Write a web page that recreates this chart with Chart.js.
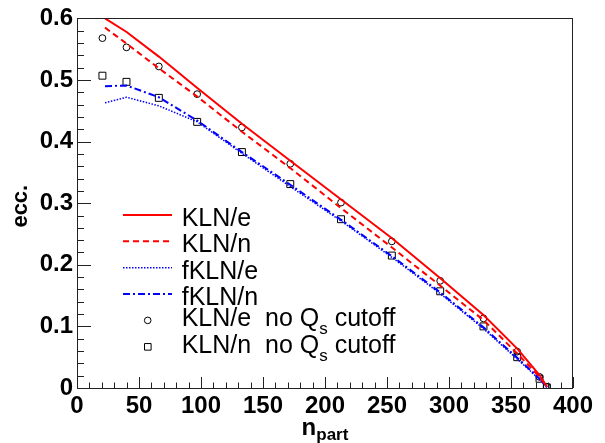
<!DOCTYPE html>
<html lang="en">
<head>
<meta charset="UTF-8">
<title>ecc. vs npart</title>
<script src="https://cdn.jsdelivr.net/npm/chart.js@4.4.1/dist/chart.umd.min.js"></script>
<style>
  body { margin: 0; background: #fff; }
</style>
</head>
<body>
<canvas id="chart" width="605" height="443"></canvas>
<script>
// npart where the model curves are evaluated
const lineNpart = [22.6, 40, 66, 97, 133, 172, 213, 254, 293, 328, 355, 373, 379];
const klnE  = [0.600, 0.578, 0.538, 0.487, 0.429, 0.369, 0.306, 0.243, 0.178, 0.118, 0.064, 0.021, 0.002];
const klnN  = [0.585, 0.559, 0.519, 0.473, 0.416, 0.357, 0.292, 0.228, 0.166, 0.110, 0.056, 0.018, 0.002];
const fklnE = [0.463, 0.472, 0.458, 0.432, 0.381, 0.327, 0.271, 0.212, 0.153, 0.096, 0.047, 0.014, 0.001];
const fklnN = [0.490, 0.491, 0.472, 0.434, 0.383, 0.330, 0.273, 0.214, 0.155, 0.098, 0.049, 0.015, 0.001];

// markers: KLN without the Qs cutoff
const pointNpart = [20.5, 39.9, 66.0, 96.9, 133.0, 172.0, 212.9, 253.9, 292.9, 327.8, 355.0, 373.0, 378.9];
const klnEnoCut  = [0.568, 0.553, 0.522, 0.477, 0.423, 0.364, 0.301, 0.238, 0.174, 0.113, 0.059, 0.018, 0.002];
const klnNnoCut  = [0.507, 0.497, 0.471, 0.432, 0.383, 0.331, 0.274, 0.215, 0.157, 0.100, 0.050, 0.015, 0.001];

const legendLabels = ["KLN/e", "KLN/n", "fKLN/e", "fKLN/n", "KLN/e  no Q_s cutoff", "KLN/n  no Q_s cutoff"];
const xTickValues = [0, 50, 100, 150, 200, 250, 300, 350, 400];
const yTickValues = [0, 0.1, 0.2, 0.3, 0.4, 0.5, 0.6];
const yTickLabels = ["0", "0.1", "0.2", "0.3", "0.4", "0.5", "0.6"];

const pts = (xs, ys) => xs.map((x, i) => ({ x: x, y: ys[i] }));

function lineSet(label, xs, ys, color, dash, width) {
    return {
        label: label, data: pts(xs, ys), showLine: true, fill: false,
        borderColor: color, borderWidth: width, borderDash: dash,
        pointRadius: 0, tension: 0
    };
}
function markerSet(label, xs, ys, style, r) {
    return {
        label: label, data: pts(xs, ys), showLine: false,
        pointStyle: style, pointRadius: r, pointBorderColor: "#000",
        pointBackgroundColor: "rgba(0,0,0,0)", pointBorderWidth: 1
    };
}

// text with "_x" subscripts, e.g. Q_s
function drawRich(ctx, text, x, y, size, bold, subSize, subDrop) {
    const w = bold ? "bold " : "";
    const parts = text.split(/_(\w+)/);
    let cx = x;
    parts.forEach((p, i) => {
        const sub = i % 2 === 1;
        ctx.font = w + (sub ? subSize : size) + "px 'Liberation Sans', Arial, sans-serif";
        ctx.fillText(p, cx, sub ? y + subDrop : y);
        cx += ctx.measureText(p).width;
    });
    return cx - x;
}
function richWidth(ctx, text, size, bold, subSize) {
    const w = bold ? "bold " : "";
    let total = 0;
    text.split(/_(\w+)/).forEach((p, i) => {
        ctx.font = w + (i % 2 ? subSize : size) + "px 'Liberation Sans', Arial, sans-serif";
        total += ctx.measureText(p).width;
    });
    return total;
}

const decor = {
    id: "decor",
    afterDatasetsDraw(chart) {
        const { ctx, chartArea: a, scales: { x, y } } = chart;
        ctx.save();
        // frame and inward ticks
        ctx.strokeStyle = "#222";
        ctx.lineWidth = 1;
        ctx.strokeRect(Math.round(a.left) + 0.5, Math.round(a.top) + 0.5,
            Math.round(a.right - a.left) - 1, Math.round(a.bottom - a.top));
        ctx.beginPath();
        for (let v = 0; v <= 400; v += 10) {
            const px = Math.round(x.getPixelForValue(v)) + 0.5;
            const len = v % 50 === 0 ? 11 : 5.5;
            ctx.moveTo(px, a.bottom); ctx.lineTo(px, a.bottom - len);
        }
        for (let i = 0; i <= 30; i++) {
            const py = Math.round(y.getPixelForValue(i * 0.02)) + 0.5;
            const len = i % 5 === 0 ? 14 : 7;
            ctx.moveTo(a.left, py); ctx.lineTo(a.left + len, py);
        }
        ctx.stroke();

        // axis titles
        ctx.fillStyle = "#000";
        ctx.textBaseline = "alphabetic";
        ctx.textAlign = "left";
        const xt = "n_part";
        const xw = richWidth(ctx, xt, 24, true, 17);
        drawRich(ctx, xt, (a.left + a.right) / 2 - xw / 2, 435, 24, true, 17, 5);

        ctx.save();
        ctx.translate(27, (a.top + a.bottom) / 2 + 3);
        ctx.rotate(-Math.PI / 2);
        ctx.textAlign = "center";
        ctx.font = "bold 22px 'Liberation Sans', Arial, sans-serif";
        ctx.fillText("ecc.", 0, 0);
        ctx.restore();

        // legend
        chart.data.datasets.forEach((ds, i) => {
            const cy = 215 + i * 26.35;
            ctx.save();
            if (ds.showLine) {
                ctx.strokeStyle = ds.borderColor;
                ctx.lineWidth = ds.borderWidth;
                ctx.setLineDash(ds.borderDash || []);
                ctx.beginPath();
                ctx.moveTo(123, cy); ctx.lineTo(172, cy);
                ctx.stroke();
            } else {
                ctx.strokeStyle = "#000";
                ctx.lineWidth = 1;
                ctx.beginPath();
                if (ds.pointStyle === "circle") ctx.arc(147.7, cy, 3.3, 0, Math.PI * 2);
                else ctx.rect(144.5, cy - 3.2, 6.6, 6.6);
                ctx.stroke();
            }
            ctx.restore();
            ctx.fillStyle = "#000";
            const sub = ds.label.indexOf("_") >= 0;
            drawRich(ctx, ds.label, 181.7, cy + (sub ? 6 : 11), 25, false, 17, 8);
        });
        ctx.restore();
    }
};

const ctx = document.getElementById("chart").getContext("2d");
new Chart(ctx, {
    type: "scatter",
    data: {
        datasets: [
            lineSet(legendLabels[0], lineNpart, klnE, "#ff0000", [], 2),
            lineSet(legendLabels[1], lineNpart, klnN, "#ff0000", [6, 4], 2),
            lineSet(legendLabels[2], lineNpart, fklnE, "#0000ff", [1.5, 1.5], 1.5),
            lineSet(legendLabels[3], lineNpart, fklnN, "#0000ff", [7, 3, 2, 3], 2),
            markerSet(legendLabels[4], pointNpart, klnEnoCut, "circle", 3.4),
            markerSet(legendLabels[5], pointNpart, klnNnoCut, "rect", 4.9)
        ]
    },
    options: {
        responsive: false,
        animation: false,
        devicePixelRatio: 1,
        layout: { padding: { left: 0, right: 32, top: 15.5, bottom: 0 } },
        plugins: { legend: { display: false }, tooltip: { enabled: false } },
        scales: {
            x: {
                type: "linear", min: 0, max: 400,
                grid: { display: false, drawTicks: false },
                border: { display: false },
                afterBuildTicks: s => { s.ticks = xTickValues.map(v => ({ value: v })); },
                afterFit: s => { s.height = 55; },
                ticks: {
                    padding: 4, color: "#000", maxRotation: 0, autoSkip: false,
                    font: { family: "'Liberation Sans', Arial, sans-serif", size: 24, weight: "bold" }
                }
            },
            y: {
                type: "linear", min: 0, max: 0.6,
                grid: { display: false, drawTicks: false },
                border: { display: false },
                afterBuildTicks: s => { s.ticks = yTickValues.map(v => ({ value: v })); },
                afterFit: s => { s.width = 77; },
                ticks: {
                    padding: 4, color: "#000", autoSkip: false,
                    callback: (v, i) => yTickLabels[i],
                    font: { family: "'Liberation Sans', Arial, sans-serif", size: 24, weight: "bold" }
                }
            }
        }
    },
    plugins: [decor]
});
</script>
</body>
</html>
